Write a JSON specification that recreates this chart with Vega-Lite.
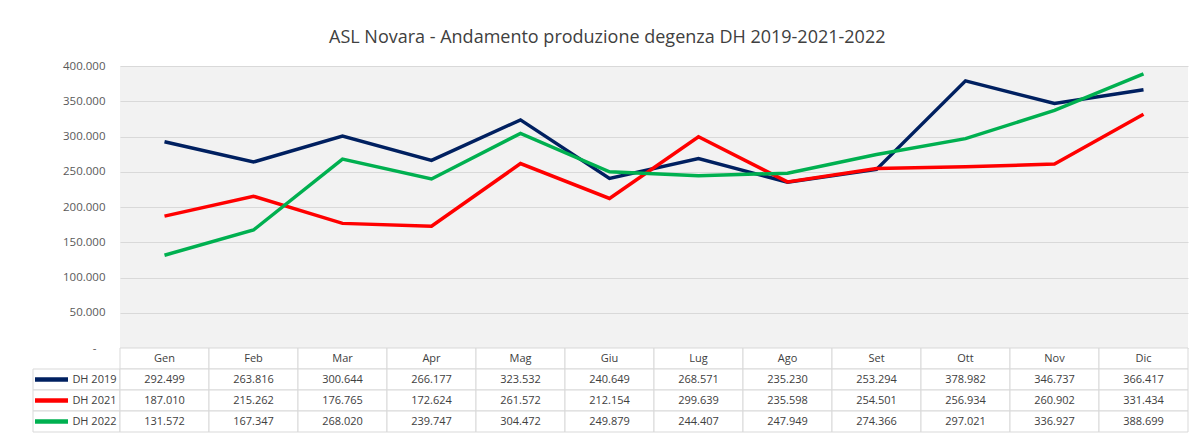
{
  "$schema": "https://vega.github.io/schema/vega-lite/v6.json",
  "background": "white",
  "padding": {"left": 26, "top": 29, "right": 4, "bottom": 3},
  "autosize": {"type": "pad"},
  "config": {
    "locale": {"number": {"decimal": ",", "thousands": ".", "grouping": [3], "currency": ["€", ""]}},
    "view": {"stroke": null},
    "font": "Open Sans"
  },
  "title": {"text": "ASL Novara - Andamento produzione degenza DH 2019-2021-2022", "fontSize": 18, "fontWeight": "normal", "color": "#404040", "offset": 19, "dy": 6, "anchor": "middle", "font": "Open Sans"},
  "datasets": {
    "vals": [
      {"month": "Gen", "series": "DH 2019", "value": 292499},
      {"month": "Feb", "series": "DH 2019", "value": 263816},
      {"month": "Mar", "series": "DH 2019", "value": 300644},
      {"month": "Apr", "series": "DH 2019", "value": 266177},
      {"month": "Mag", "series": "DH 2019", "value": 323532},
      {"month": "Giu", "series": "DH 2019", "value": 240649},
      {"month": "Lug", "series": "DH 2019", "value": 268571},
      {"month": "Ago", "series": "DH 2019", "value": 235230},
      {"month": "Set", "series": "DH 2019", "value": 253294},
      {"month": "Ott", "series": "DH 2019", "value": 378982},
      {"month": "Nov", "series": "DH 2019", "value": 346737},
      {"month": "Dic", "series": "DH 2019", "value": 366417},
      {"month": "Gen", "series": "DH 2021", "value": 187010},
      {"month": "Feb", "series": "DH 2021", "value": 215262},
      {"month": "Mar", "series": "DH 2021", "value": 176765},
      {"month": "Apr", "series": "DH 2021", "value": 172624},
      {"month": "Mag", "series": "DH 2021", "value": 261572},
      {"month": "Giu", "series": "DH 2021", "value": 212154},
      {"month": "Lug", "series": "DH 2021", "value": 299639},
      {"month": "Ago", "series": "DH 2021", "value": 235598},
      {"month": "Set", "series": "DH 2021", "value": 254501},
      {"month": "Ott", "series": "DH 2021", "value": 256934},
      {"month": "Nov", "series": "DH 2021", "value": 260902},
      {"month": "Dic", "series": "DH 2021", "value": 331434},
      {"month": "Gen", "series": "DH 2022", "value": 131572},
      {"month": "Feb", "series": "DH 2022", "value": 167347},
      {"month": "Mar", "series": "DH 2022", "value": 268020},
      {"month": "Apr", "series": "DH 2022", "value": 239747},
      {"month": "Mag", "series": "DH 2022", "value": 304472},
      {"month": "Giu", "series": "DH 2022", "value": 249879},
      {"month": "Lug", "series": "DH 2022", "value": 244407},
      {"month": "Ago", "series": "DH 2022", "value": 247949},
      {"month": "Set", "series": "DH 2022", "value": 274366},
      {"month": "Ott", "series": "DH 2022", "value": 297021},
      {"month": "Nov", "series": "DH 2022", "value": 336927},
      {"month": "Dic", "series": "DH 2022", "value": 388699}
    ]
  },
  "columns": 2,
  "spacing": 0,
  "bounds": "flush",
  "concat": [
    {
      "width": 87,
      "height": 282,
      "data": {"values": []},
      "mark": "point"
    },
    {
      "width": 1068,
      "height": 282,
      "view": {"fill": "#f2f2f2", "stroke": null},
      "data": {"name": "vals"},
      "mark": {"type": "line", "strokeWidth": 3.5},
      "encoding": {
        "x": {"field": "month", "type": "nominal", "sort": ["Gen","Feb","Mar","Apr","Mag","Giu","Lug","Ago","Set","Ott","Nov","Dic"], "scale": {"type": "point", "padding": 0.5, "domain": ["Gen","Feb","Mar","Apr","Mag","Giu","Lug","Ago","Set","Ott","Nov","Dic"]}, "axis": null},
        "y": {"field": "value", "type": "quantitative", "scale": {"domain": [0, 400000], "nice": false},
          "axis": {"values": [0, 50000, 100000, 150000, 200000, 250000, 300000, 350000, 400000], "labelExpr": "datum.value == 0 ? '-\u2800' : format(datum.value, ',.0f')", "domain": false, "ticks": false, "labelPadding": 15, "gridColor": "#d9d9d9", "labelColor": "#595959", "labelFontSize": 11.5, "labelFont": "Open Sans", "title": null}},
        "color": {"field": "series", "type": "nominal", "scale": {"domain": ["DH 2019", "DH 2021", "DH 2022"], "range": ["#002060", "#ff0000", "#00b050"]}, "legend": null}
      }
    },
    {
      "width": 87,
      "height": 84,
      "data": {"name": "vals"},
      "transform": [{"filter": "datum.month == 'Gen'"}],
      "encoding": {
        "y": {"field": "series", "type": "nominal", "scale": {"type": "band", "domain": ["hdr", "DH 2019", "DH 2021", "DH 2022"], "paddingInner": 0, "paddingOuter": 0}, "axis": null}
      },
      "layer": [
        {"mark": {"type": "rect", "fill": "white", "stroke": "#d9d9d9", "strokeWidth": 1}},
        {"mark": {"type": "point", "shape": "stroke", "size": 1089, "strokeWidth": 4.5, "opacity": 1, "xOffset": -25},
          "encoding": {"color": {"field": "series", "type": "nominal", "scale": {"domain": ["DH 2019", "DH 2021", "DH 2022"], "range": ["#002060", "#ff0000", "#00b050"]}, "legend": null}}},
        {"mark": {"type": "text", "align": "right", "dx": 40, "fontSize": 11, "color": "#404040"},
          "encoding": {"text": {"field": "series", "type": "nominal"}}}
      ]
    },
    {
      "width": 1068,
      "height": 84,
      "data": {"name": "vals"},
      "encoding": {
        "x": {"field": "month", "type": "nominal", "sort": ["Gen","Feb","Mar","Apr","Mag","Giu","Lug","Ago","Set","Ott","Nov","Dic"], "scale": {"type": "band", "domain": ["Gen","Feb","Mar","Apr","Mag","Giu","Lug","Ago","Set","Ott","Nov","Dic"], "paddingInner": 0, "paddingOuter": 0}, "axis": null}
      },
      "layer": [
        {
          "transform": [{"filter": "datum.series == 'DH 2019'"}],
          "encoding": {"y": {"datum": "hdr", "type": "nominal", "scale": {"type": "band", "domain": ["hdr", "DH 2019", "DH 2021", "DH 2022"], "paddingInner": 0, "paddingOuter": 0}, "axis": null}},
          "layer": [
            {"mark": {"type": "rect", "fill": "white", "stroke": "#d9d9d9", "strokeWidth": 1}},
            {"mark": {"type": "text", "fontSize": 11, "color": "#404040"}, "encoding": {"text": {"field": "month", "type": "nominal"}}}
          ]
        },
        {
          "encoding": {"y": {"field": "series", "type": "nominal", "scale": {"type": "band", "domain": ["hdr", "DH 2019", "DH 2021", "DH 2022"], "paddingInner": 0, "paddingOuter": 0}, "axis": null}},
          "layer": [
            {"mark": {"type": "rect", "fill": "white", "stroke": "#d9d9d9", "strokeWidth": 1}},
            {"mark": {"type": "text", "fontSize": 11, "color": "#404040"}, "encoding": {"text": {"field": "value", "type": "quantitative", "format": ",.0f"}}}
          ]
        }
      ]
    }
  ]
}
